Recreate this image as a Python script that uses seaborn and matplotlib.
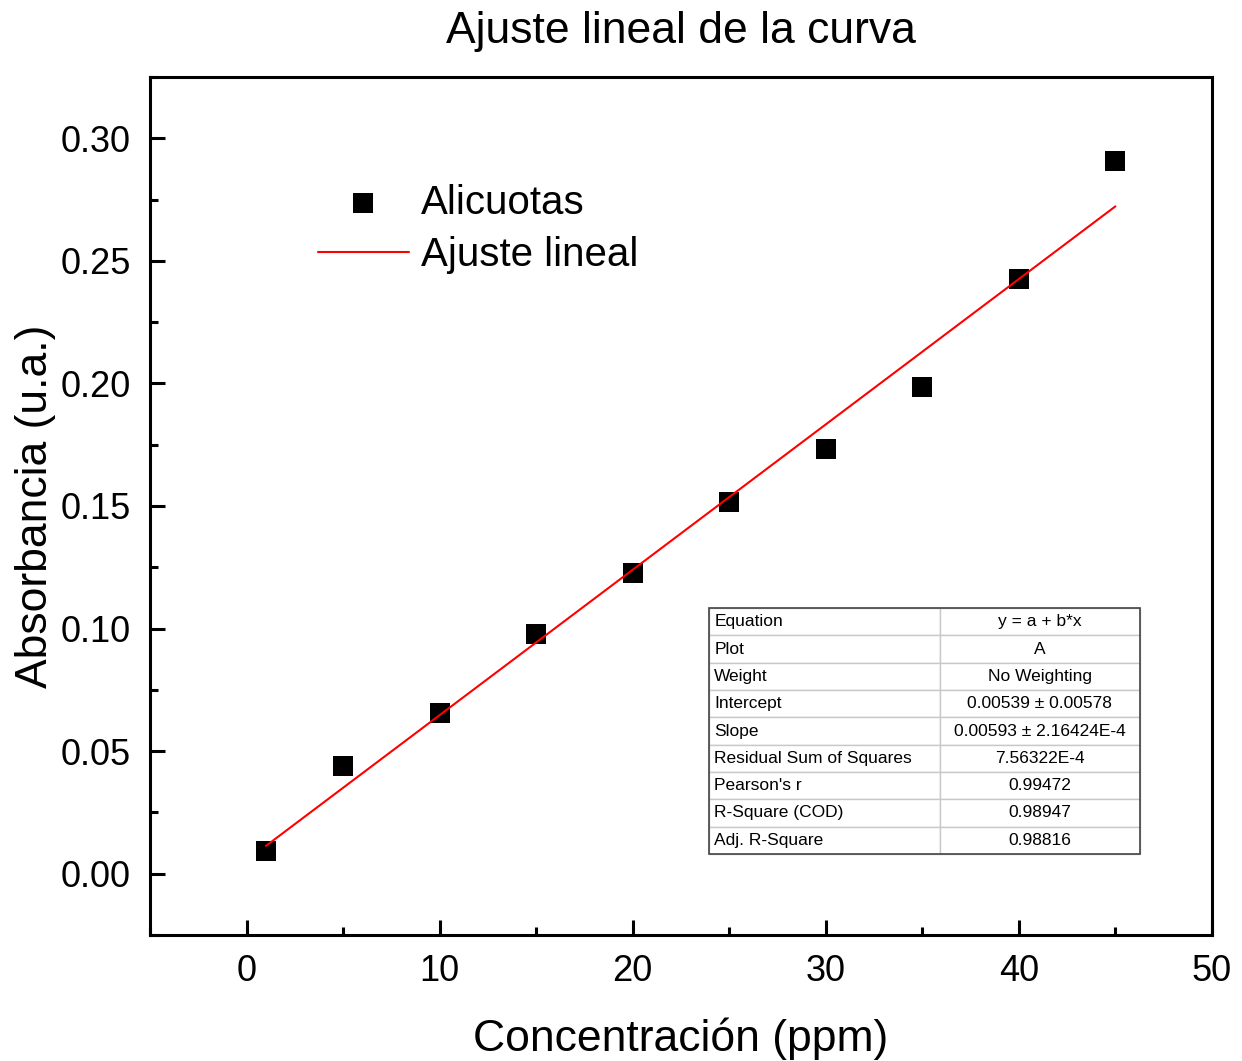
import numpy as np
import pandas as pd
import matplotlib
matplotlib.use("Agg")
import matplotlib.pyplot as plt
import seaborn as sns
from matplotlib.ticker import MultipleLocator

sns.set_style("white")
plt.rcParams['font.family'] = ['Liberation Sans', 'DejaVu Sans']
plt.rcParams['text.color'] = 'black'
plt.rcParams['axes.labelcolor'] = 'black'
plt.rcParams['xtick.color'] = 'black'
plt.rcParams['ytick.color'] = 'black'

# Data
concentracion = [1, 5, 10, 15, 20, 25, 30, 35, 40, 45]
absorbancia = [0.0094, 0.0440, 0.0656, 0.0978, 0.1227, 0.1516, 0.1732, 0.1985, 0.2425, 0.2906]

# Fit parameters as reported in the table
intercept = 0.00539
slope = 0.00593

table_labels = ['Equation', 'Plot', 'Weight', 'Intercept', 'Slope',
                'Residual Sum of Squares', "Pearson's r", 'R-Square (COD)', 'Adj. R-Square']
table_values = ['y = a + b*x', 'A', 'No Weighting', '0.00539 \u00b1 0.00578',
                '0.00593 \u00b1 2.16424E-4', '7.56322E-4', '0.99472', '0.98947', '0.98816']

df = pd.DataFrame({'x': concentracion, 'y': absorbancia})
fit_x = [concentracion[0], concentracion[-1]]
fit_df = pd.DataFrame({'x': fit_x, 'y': [intercept + slope * v for v in fit_x]})

fig = plt.figure(figsize=(12.42, 10.61), dpi=100)
ax = fig.add_axes([0.1208, 0.1188, 0.8550, 0.8086])

sns.lineplot(data=fit_df, x='x', y='y', ax=ax, color='#ff0000', linewidth=1.5,
             label='Ajuste lineal', zorder=3)
sns.scatterplot(data=df, x='x', y='y', ax=ax, marker='s', color='black', s=210,
                edgecolor='black', linewidth=0, label='Alicuotas', zorder=2)

ax.set_xlim(-5, 50)
ax.set_ylim(-0.025, 0.325)
ax.xaxis.set_major_locator(MultipleLocator(10))
ax.xaxis.set_minor_locator(MultipleLocator(5))
ax.yaxis.set_major_locator(MultipleLocator(0.05))
ax.yaxis.set_minor_locator(MultipleLocator(0.025))
ax.yaxis.set_major_formatter(matplotlib.ticker.FormatStrFormatter('%.2f'))
ax.tick_params(which='major', direction='in', length=11, width=2.2, labelsize=26,
               pad=14, bottom=True, left=True, top=False, right=False)
ax.tick_params(which='minor', direction='in', length=6, width=2.2,
               bottom=True, left=True, top=False, right=False)
for sp in ax.spines.values():
    sp.set_linewidth(2.2)
    sp.set_color('black')

ax.set_xlabel('Concentración (ppm)', fontsize=32, labelpad=20)
ax.set_ylabel('Absorbancia (u.a.)', fontsize=32, labelpad=3)
fig.suptitle('Ajuste lineal de la curva', fontsize=32, x=0.548, y=0.99)

handles, labels = ax.get_legend_handles_labels()
order = [labels.index('Alicuotas'), labels.index('Ajuste lineal')]
ax.legend([handles[i] for i in order], [labels[i] for i in order],
          loc='upper left', bbox_to_anchor=(0.124, 0.918), frameon=False,
          fontsize=29, handlelength=2.25, handletextpad=0.3, labelspacing=0.35,
          markerscale=0.95)

cell_text = [[a, b] for a, b in zip(table_labels, table_values)]
tbl = ax.table(cellText=cell_text, colWidths=[0.536, 0.464],
               bbox=[0.526, 0.0944, 0.406, 0.2866], zorder=5)
tbl.auto_set_font_size(False)
tbl.set_fontsize(12.5)
for (r, c), cell in tbl.get_celld().items():
    cell.set_edgecolor('#c8c8c8')
    cell.set_linewidth(1.0)
    cell.set_facecolor('white')
    txt = cell.get_text()
    txt.set_color('black')
    if c == 0:
        txt.set_ha('left')
        cell.PAD = 0.025
    else:
        txt.set_ha('center')
# outer border
ax.add_patch(plt.Rectangle((0.526, 0.0944), 0.406, 0.2866, transform=ax.transAxes,
                           fill=False, edgecolor='#444444', linewidth=1.2, zorder=6))

fig.savefig('out.png', dpi=100)
